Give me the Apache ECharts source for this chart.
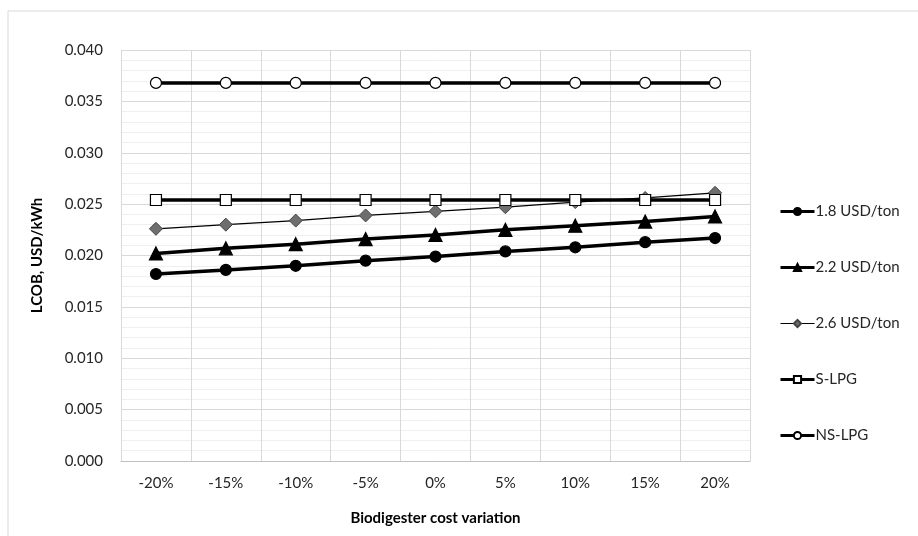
<!DOCTYPE html>
<html>
<head>
<meta charset="utf-8">
<script src="https://cdn.jsdelivr.net/npm/echarts@6/dist/echarts.min.js"></script>
<style>
  html, body { margin: 0; padding: 0; background: #fff; }
  #chart { width: 918px; height: 536px; }
</style>
</head>
<body>
<div id="chart"></div>
<script>
// biodigester cost variation
const categories = ['-20%', '-15%', '-10%', '-5%', '0%', '5%', '10%', '15%', '20%']

const usd18 = [0.0182, 0.0186, 0.0190, 0.0195, 0.0199, 0.0204, 0.0208, 0.0213, 0.0217]
const usd22 = [0.0202, 0.0207, 0.0211, 0.0216, 0.0220, 0.0225, 0.0229, 0.0233, 0.0238]
const usd26 = [0.0226, 0.0230, 0.0234, 0.0239, 0.0243, 0.0247, 0.0252, 0.0256, 0.0261]
const sLpg = [0.0254, 0.0254, 0.0254, 0.0254, 0.0254, 0.0254, 0.0254, 0.0254, 0.0254]
const nsLpg = [0.0368, 0.0368, 0.0368, 0.0368, 0.0368, 0.0368, 0.0368, 0.0368, 0.0368]

const font = 'Lato, "Open Sans", sans-serif'
const chart = echarts.init(document.getElementById('chart'))

const thickLine = (name, data, symbol, size, fill, border) => ({
  name,
  type: 'line',
  data,
  symbol,
  symbolSize: size,
  lineStyle: { color: '#000', width: 3.5 },
  itemStyle: { color: fill, borderColor: border, borderWidth: 1.2 },
  z: 3
})

chart.setOption({
  animation: false,
  textStyle: { fontFamily: font },
  graphic: [{
    type: 'rect',
    shape: { x: 8, y: 11, width: 930, height: 540 },
    style: { fill: 'none', stroke: '#d9d9d9', lineWidth: 1 },
    silent: true
  }],
  grid: { left: 121, right: 168, top: 50, bottom: 75 },
  legend: {
    orient: 'vertical',
    left: 774,
    top: 199,
    itemWidth: 34,
    itemHeight: 9,
    itemGap: 41,
    lineStyle: { width: 3 },
    textStyle: { fontFamily: font, fontSize: 15, color: '#262626', padding: [0, 0, 0, -4] },
    data: [
      '1.8 USD/ton',
      '2.2 USD/ton',
      { name: '2.6 USD/ton', lineStyle: { width: 1.2 } },
      'S-LPG',
      'NS-LPG'
    ]
  },
  xAxis: {
    type: 'category',
    data: categories,
    boundaryGap: true,
    name: 'Biodigester cost variation',
    nameLocation: 'middle',
    nameGap: 50,
    nameTextStyle: { fontFamily: font, fontSize: 15, fontWeight: 'bold', color: '#000' },
    axisLine: { lineStyle: { color: '#bfbfbf' } },
    axisTick: { show: false },
    axisLabel: { fontSize: 15, color: '#262626', margin: 15 },
    splitLine: { show: true, lineStyle: { color: '#d9d9d9' } }
  },
  yAxis: {
    type: 'value',
    min: 0,
    max: 0.04,
    interval: 0.005,
    name: 'LCOB, USD/kWh',
    nameLocation: 'middle',
    nameGap: 76,
    nameTextStyle: { fontFamily: font, fontSize: 15, fontWeight: 'bold', color: '#000' },
    axisLine: { show: true, lineStyle: { color: '#d9d9d9' } },
    axisTick: { show: false },
    axisLabel: {
      fontSize: 15,
      color: '#262626',
      margin: 18,
      formatter: v => v.toFixed(3)
    },
    splitLine: { lineStyle: { color: '#d9d9d9' } },
    minorTick: { show: false, splitNumber: 5 },
    minorSplitLine: { show: true, lineStyle: { color: '#efefef' } }
  },
  series: [
    thickLine('1.8 USD/ton', usd18, 'circle', 11, '#000', '#000'),
    thickLine('2.2 USD/ton', usd22, 'triangle', 13, '#000', '#000'),
    {
      name: '2.6 USD/ton',
      type: 'line',
      data: usd26,
      symbol: 'diamond',
      symbolSize: 13,
      lineStyle: { color: '#000', width: 1.2 },
      itemStyle: { color: '#6e6e6e', borderColor: '#444', borderWidth: 1 },
      z: 2
    },
    thickLine('S-LPG', sLpg, 'rect', 11, '#fff', '#000'),
    thickLine('NS-LPG', nsLpg, 'circle', 11, '#fff', '#000')
  ]
})
</script>
</body>
</html>
